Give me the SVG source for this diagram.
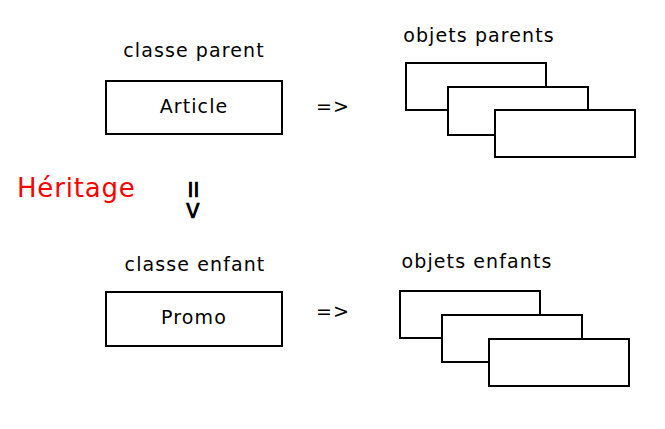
<svg xmlns="http://www.w3.org/2000/svg" width="665" height="429" viewBox="0 0 665 429">
<style>
  .t { font-family: "DejaVu Sans", "Liberation Sans", sans-serif; font-size: 19px; letter-spacing: 1.1px; fill: #000; text-anchor: middle; }
  .box { fill: #fff; stroke: #000; stroke-width: 2; }
  .red { font-family: "DejaVu Sans", "Liberation Sans", sans-serif; font-size: 26px; letter-spacing: 0.8px; fill: #ff0000; }
  .arr { font-family: "DejaVu Sans", "Liberation Sans", sans-serif; font-size: 25px; font-weight: bold; fill: #000; text-anchor: middle; }
</style>
<rect width="665" height="429" fill="#fff"/>
<g id="label-parent"><text class="t" x="194" y="57">classe parent</text></g>
<g id="article">
  <rect class="box" x="106" y="81" width="176" height="53"/>
  <text class="t" x="194" y="113">Article</text>
</g>
<g id="label-objets-parents"><text class="t" x="479" y="42">objets parents</text></g>
<g id="objets-parents">
  <rect class="box" x="406" y="63" width="140" height="47"/>
  <rect class="box" x="448" y="87" width="140" height="48"/>
  <rect class="box" x="495" y="110" width="140" height="47"/>
</g>
<g id="heritage"><text class="red" x="17" y="197">Héritage</text></g>
<g id="label-enfant"><text class="t" x="195" y="271">classe enfant</text></g>
<g id="promo">
  <rect class="box" x="106" y="292" width="176" height="54"/>
  <text class="t" x="194" y="324">Promo</text>
</g>
<g id="label-objets-enfants"><text class="t" x="477" y="268">objets enfants</text></g>
<g id="objets-enfants">
  <rect class="box" x="400" y="291" width="140" height="47"/>
  <rect class="box" x="442" y="315" width="140" height="47"/>
  <rect class="box" x="489" y="339" width="140" height="47"/>
</g>
<g id="connectors">
  <text class="t" x="333" y="113">=&gt;</text>
  <text class="t" x="333" y="318">=&gt;</text>
  <text class="arr" transform="translate(184.5,200) rotate(90)" x="0" y="0">=&gt;</text>
</g>
</svg>
